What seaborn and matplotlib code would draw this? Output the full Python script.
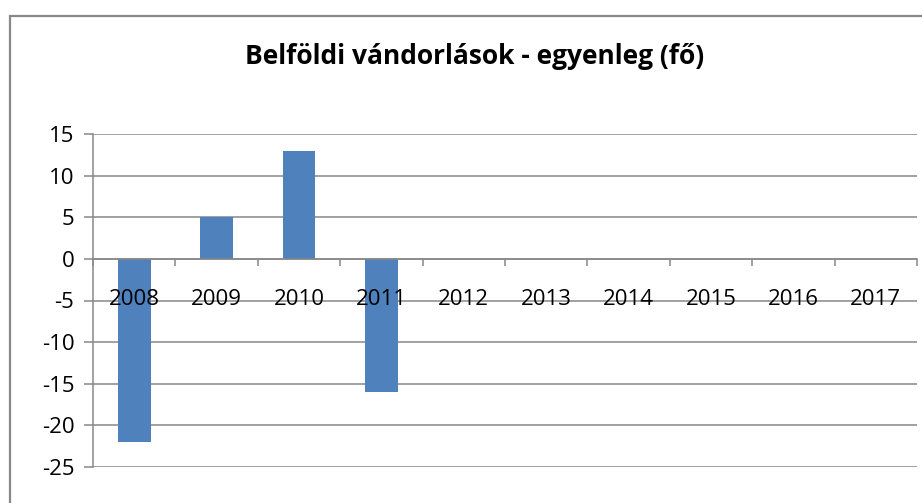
import matplotlib
matplotlib.use("Agg")
import numpy as np
import matplotlib.pyplot as plt
import seaborn as sns
from matplotlib.patches import Rectangle
from matplotlib.ticker import MultipleLocator

# Chart data (no values for 2012-2017)
years = ["2008", "2009", "2010", "2011", "2012", "2013", "2014", "2015", "2016", "2017"]
balance = [-22, 5, 13, -16, np.nan, np.nan, np.nan, np.nan, np.nan, np.nan]
title = "Belföldi vándorlások - egyenleg (fő)"

bar_color = "#4F81BD"
line_color = "#888888"

sns.set_theme(style="white")
plt.rcParams['font.family'] = ['Open Sans', 'DejaVu Sans']
plt.rcParams['axes.unicode_minus'] = False

fig = plt.figure(figsize=(9.22, 5.03), dpi=100)
ax = fig.add_axes([93 / 922, 36 / 503, (917 - 93) / 922, (467 - 134) / 503])

sns.barplot(x=years, y=balance, order=years, color=bar_color, width=0.4,
            saturation=1, linewidth=0, ax=ax)

ax.set_xlim(-0.5, len(years) - 0.5)
ax.set_ylim(-25, 15)
ax.yaxis.set_major_locator(MultipleLocator(5))
ax.grid(axis='y', color=line_color, linewidth=1.1)
# gridlines behind the bars, year labels on top of them
ax.yaxis.set_zorder(0.5)
ax.xaxis.set_zorder(3)

# spines: left axis plus category axis through zero
for side in ['top', 'right']:
    ax.spines[side].set_visible(False)
ax.spines['bottom'].set_position(('data', 0))
ax.spines['bottom'].set_color(line_color)
ax.spines['bottom'].set_linewidth(1.1)
ax.spines['left'].set_color(line_color)
ax.spines['left'].set_linewidth(1.1)

# tick marks between categories, labels below the zero line
ax.xaxis.set_minor_locator(MultipleLocator(1, offset=0.5))
ax.tick_params(axis='x', which='minor', bottom=True, length=5, width=1.1,
               color=line_color, direction='out')
ax.tick_params(axis='x', which='major', length=0, pad=22, labelsize=16, labelcolor='black')
ax.tick_params(axis='y', left=True, length=6.5, width=1.1, color=line_color,
               direction='out', labelsize=16, labelcolor='black', pad=7)
ax.set_xlabel('')
ax.set_ylabel('')

fig.text(475 / 922, 1 - 57 / 503, title, ha='center', va='center',
         fontsize=19, fontweight='bold', color='black')

# outer chart frame
fig.patches.append(Rectangle((10 / 922, -0.1), 1.2, 1 - 16 / 503 + 0.1,
                             transform=fig.transFigure, fill=False,
                             edgecolor=line_color, linewidth=1.6))

fig.savefig("out.png", dpi=100)
